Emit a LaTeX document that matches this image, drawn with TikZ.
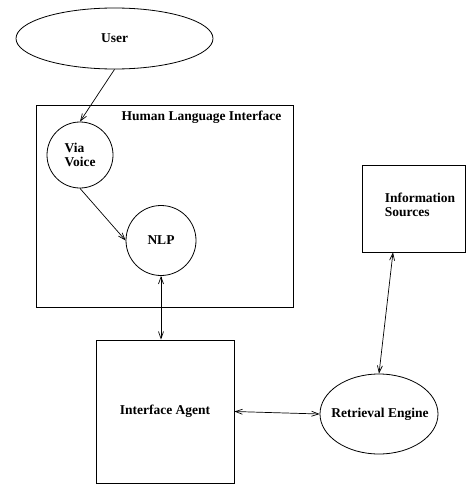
\documentclass[tikz,border=0pt]{standalone}
\usepackage{fontspec}
\setmainfont{Liberation Serif}
\usetikzlibrary{shapes.geometric,arrows.meta}
\begin{document}
\begin{tikzpicture}[x=1pt,y=-1pt,
  every node/.style={font=\fontsize{13.5}{14.5}\selectfont\bfseries, inner sep=0pt},
  shape line/.style={draw, line width=0.8pt},
  conn/.style={line width=0.7pt, {Straight Barb[length=7pt,width=5pt]}-{Straight Barb[length=7pt,width=5pt]}},
  onearrow/.style={line width=0.7pt, -{Straight Barb[length=7pt,width=5pt]}}]
\useasboundingbox (0,0) rectangle (466,487);
\node[shape line, ellipse, minimum width=197pt, minimum height=61pt] (user) at (114.5,38.5) {User};
\node[shape line, rectangle, minimum width=257pt, minimum height=202pt] (hli) at (164.5,206) {};
\node (hlititle) at (201.5,117) {Human Language Interface};
\node[shape line, circle, minimum size=66pt, align=left] (via) at (80,155) {Via\\Voice};
\node[shape line, circle, minimum size=70pt] (nlp) at (161,240.5) {NLP};
\node[shape line, rectangle, minimum width=138pt, minimum height=143pt] (ia) at (165,411.5) {Interface Agent};
\node[shape line, ellipse, minimum width=118pt, minimum height=80pt] (re) at (379,414) {};
\node (retext) at (380,414) {Retrieval Engine};
\node[shape line, rectangle, minimum width=103pt, minimum height=87pt] (info) at (413.5,208.5) {};
\node[align=left] (infotext) at (420,205) {Information\\Sources};
\draw[onearrow] (user.south) -- (via.north);
\draw[onearrow] (via.south) -- (nlp.west);
\draw[conn] (nlp.south) -- (nlp.south |- ia.north);
\draw[conn] (ia.east) -- (re.west);
\draw[conn] ([xshift=-20.5pt]info.south) -- (re.north);
\end{tikzpicture}
\end{document}
